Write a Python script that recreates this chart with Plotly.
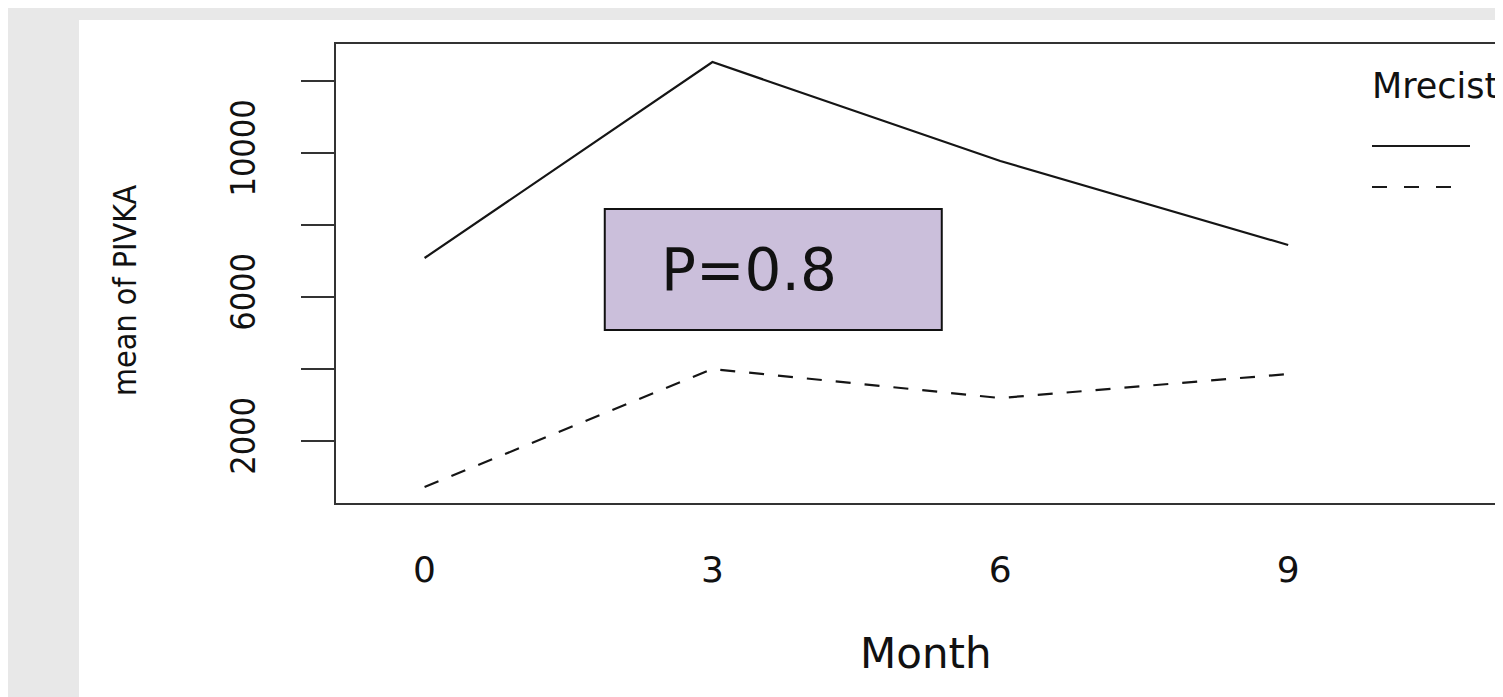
import plotly.graph_objects as go

# ---- data ----
months = [0, 3, 6, 9]
series_names = ["1", "2"]
solid_vals = [7083, 12528, 9778, 7444]
dashed_vals = [722, 4000, 3194, 3861]
y_tickvals = [2000, 4000, 6000, 8000, 10000, 12000]
y_ticktext = ["2000", "", "6000", "", "10000", ""]
x_tickvals = [0, 3, 6, 9]
p_text = "P=0.8"
legend_title = "Mrecist"

OFF = 8  # page body margin
W, H = 1503, 697
L = 336 - OFF
T = 44 - OFF
B = H - (503 - OFF)
pw = W - L
ph = H - T - B


def px_x(p):
    return (p - OFF - L) / pw


def px_y(p):
    return 1 - (p - OFF - T) / ph


fig = go.Figure()
fig.add_trace(go.Scatter(x=months, y=solid_vals, mode="lines", name=series_names[0],
                         line=dict(color="#151515", width=2.2), showlegend=False))
fig.add_trace(go.Scatter(x=months, y=dashed_vals, mode="lines", name=series_names[1],
                         line=dict(color="#151515", width=2.2, dash="15px,14px"), showlegend=False))

shapes = [
    # white panel on the grey page
    dict(type="rect", xref="paper", yref="paper", x0=px_x(79), x1=px_x(1520),
         y0=px_y(20), y1=px_y(720), fillcolor="white", line=dict(width=0), layer="below"),
    # P-value box
    dict(type="rect", xref="x", yref="y", x0=1.878, x1=5.39, y0=5083, y1=8444,
         fillcolor="#cbbfdb", line=dict(color="#111111", width=2), layer="above"),
    # legend keys
    dict(type="line", xref="paper", yref="paper", x0=px_x(1372), x1=px_x(1470),
         y0=px_y(146), y1=px_y(146), line=dict(color="#1a1a1a", width=2)),
    dict(type="line", xref="paper", yref="paper", x0=px_x(1372), x1=px_x(1468),
         y0=px_y(187), y1=px_y(187), line=dict(color="#1a1a1a", width=2, dash="15px,17px")),
]

annotations = [
    dict(x=1.878 + (657 - 603) / 95.3, y=6750, xref="x", yref="y", text=p_text,
         showarrow=False, xanchor="left", yanchor="middle",
         font=dict(family="DejaVu Sans", size=58, color="#111111")),
    dict(x=px_x(1370), y=px_y(86), xref="paper", yref="paper", text=legend_title,
         showarrow=False, xanchor="left", yanchor="middle",
         font=dict(family="DejaVu Sans", size=35, color="#111111")),
    dict(x=px_x(125), y=px_y(290), xref="paper", yref="paper", text="mean of PIVKA",
         showarrow=False, xanchor="center", yanchor="middle", textangle=-90,
         font=dict(family="Liberation Sans Narrow, DejaVu Sans Condensed, sans-serif", size=32, color="#111111")),
    dict(x=px_x(926), y=px_y(653), xref="paper", yref="paper", text="Month",
         showarrow=False, xanchor="center", yanchor="middle",
         font=dict(family="DejaVu Sans", size=42, color="#111111")),
]

fig.update_layout(
    width=W, height=H,
    margin=dict(l=L, r=0, t=T, b=B, pad=0),
    paper_bgcolor="#e8e8e8",
    plot_bgcolor="rgba(0,0,0,0)",
    shapes=shapes,
    annotations=annotations,
    showlegend=False,
)
fig.update_xaxes(
    range=[-0.923, (W - L - OFF + 336 - 424) / 95.3], tickvals=x_tickvals,
    showgrid=False, zeroline=False, showline=True, mirror=True,
    linecolor="#333333", linewidth=2, ticks="",
    tickfont=dict(family="DejaVu Sans", size=36, color="#111111"),
    ticklabelstandoff=34,
)
fig.update_yaxes(
    range=[278, 13028], tickvals=y_tickvals, ticktext=y_ticktext,
    showgrid=False, zeroline=False, showline=True, mirror=False,
    linecolor="#333333", linewidth=2, ticks="outside", ticklen=33, tickwidth=2,
    tickcolor="#333333", tickangle=-90,
    tickfont=dict(family="Liberation Sans Narrow, DejaVu Sans Condensed, sans-serif", size=34, color="#111111"),
    ticklabelstandoff=32,
)

fig.write_html("out.html")
